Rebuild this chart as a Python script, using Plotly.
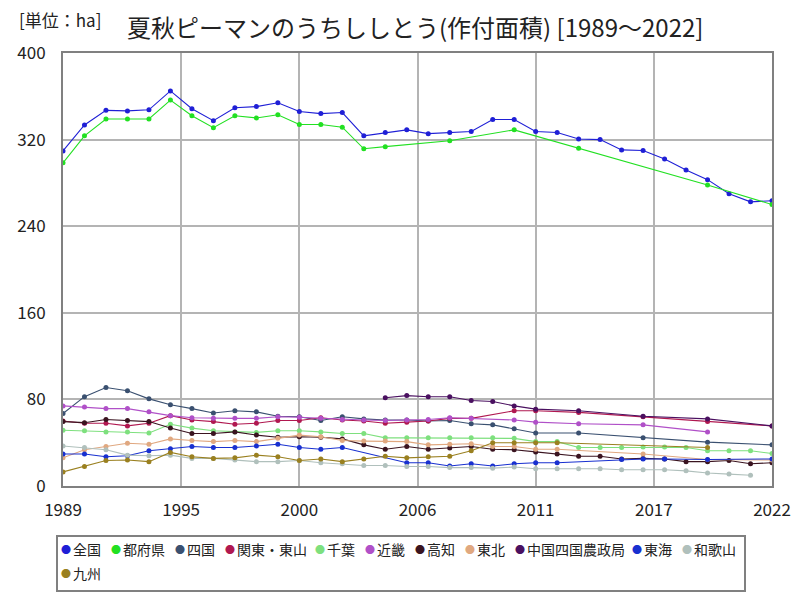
import plotly.graph_objects as go

years = list(range(1989, 2023))
N = None

zenkoku = [309.5, 333.5, 347, 346.5, 347.5, 365, 348.5, 337.5, 349.5, 350.5, 354, 346,
           344, 345, 323.5, 326.5, 329, 325.5, 326.5, 327.5, 338.5, 338.5, 327.5,
           326.5, 320.5, 320, 310.5, 310, 302, 292, 283, 270, 262.5, 263.5]
tofuken = [298.5, 323.5, 339, 339, 339, 356.5, 342, 331, 342, 340, 343, 334,
           334, 331.5, 311.5, 313.5, N, N, 319, N, N, 329, N,
           N, 312, N, N, N, N, N, 278, N, N, 260]
shikoku = [67, 82.5, 91, 88, 80.5, 75, 71.5, 67.5, 69.5, 68.5, 64.5, 64,
           60.5, 64, 62, 61, 61, 60, 60.5, 57.5, 56.5, 53, 49,
           N, 49, N, N, 44.5, N, N, 40.5, N, N, 38]
kanto = [60, 58, 58, 55.5, 58, 65, 61, 59.5, 57, 58, 60.5, 60.5,
         63, 61, 60, 58, 59, 60, 62.5, 62.5, N, 69.5, 69.5,
         N, 68, N, N, 64, N, N, 59.5, N, N, 55.5]
chiba = [51.5, 51, 50, 50, 49, 57, 53.5, 51, 50, 49.5, 51, 51,
         50, 48.5, 48.5, 44.5, 44.5, 44.5, 44.5, 44.5, 44.5, 44, 41,
         41, 35.5, 35.5, 35.5, 36, 36, 35.5, 32.5, 32.5, 32.5, 30]
kinki = [74, 73, 71.5, 71.5, 68.5, 65, 63, 62.5, 62.5, 62.5, 64, 63.5,
         62.5, 61.5, 61, 60.5, 61, 61.5, 63, 62.5, N, 61, 59,
         N, 57.5, N, N, 56.5, N, N, 50, N, N, N]
kochi = [59.5, 58.5, 61.5, 60.5, 59.5, 53.5, 48.5, 48.5, 50, 47, 45, 45.5,
         45, 43.5, 38, 34, 36.5, 34, 35, 36.5, 34, 33.5, 31.5,
         29.5, 27.5, 27.5, 25, 25.5, 25, 22.5, 22.5, 23.5, 20.5, 21.5]
tohoku = [26, 33.5, 36.5, 39.5, 38.5, 43.5, 42, 41, 42, 41, 44, 47,
          45.5, 42, 41.5, 41.5, 41, 38, 38.5, 39, 36.5, 36.5, 34,
          34, N, N, N, 29.5, N, N, 24.5, N, N, 24]
chugoku_shikoku = [N, N, N, N, N, N, N, N, N, N, N, N,
                   N, N, N, 81.5, 83.5, 82.5, 82.5, 79, 78, 74, 71,
                   N, 69.5, N, N, 64.5, N, N, 62, N, N, 55.5]
tokai = [29.5, 29.5, 27, 28, 32.5, 34.5, 36.5, 35.5, 35.5, 37, 38.5, 35.5,
         34, 35.5, N, N, 21.5, 21.5, 18.5, 20.5, 18.5, 20.5, 21.5,
         21.5, N, N, 24.5, 25, 25, N, 24.5, N, N, 25]
wakayama = [37, 35.5, 33.5, 28.5, 28, 28.5, 25.5, 25.5, 24, 22.5, 22.5, 23.5,
            21.5, 20.5, 19, 19, 18, 18, 17, 17, 16.5, 17.5, 16,
            16, 16, 16, 15, 15, 15, 14, 12, 11, 10, N]
kyushu = [13, 18, 23.5, 24, 22.5, 31, 27, 25.5, 26, 28.5, 27, 23.5,
          25, 22.5, 25, 27.5, 26, 27, 27.5, 32.5, 40, 40, 40,
          40, N, N, N, N, N, N, 35.5, N, N, N]

series = [
    ("全国", zenkoku, "#1f1fd6"),
    ("都府県", tofuken, "#22e022"),
    ("四国", shikoku, "#3a5070"),
    ("関東・東山", kanto, "#b01850"),
    ("千葉", chiba, "#7ee07e"),
    ("近畿", kinki, "#b050c8"),
    ("高知", kochi, "#3a1420"),
    ("東北", tohoku, "#e0a880"),
    ("中国四国農政局", chugoku_shikoku, "#4a1060"),
    ("東海", tokai, "#1830d0"),
    ("和歌山", wakayama, "#b0c0bc"),
    ("九州", kyushu, "#9a8020"),
]

tick_vals = [1989, 1994.5, 2000, 2005.5, 2011, 2016.5, 2022]
tick_text = ["1989", "1995", "2000", "2006", "2011", "2017", "2022"]
y_ticks = [0, 80, 160, 240, 320, 400]

# plot area in pixels (for layout of the legend box)
L, R, T, B = 63, 772, 53, 486
def px_x(p):
    return (p - L) / (R - L)
def px_y(p):
    return (B - p) / (B - T)

fig = go.Figure()
for name, vals, col in series:
    fig.add_trace(go.Scatter(x=years, y=vals, mode="lines+markers", name=name,
                             connectgaps=True, showlegend=False,
                             line=dict(color=col, width=1.1),
                             marker=dict(color=col, size=5)))

font_family = "Noto Sans CJK JP"
fig.update_layout(
    width=800, height=600,
    margin=dict(l=L, r=800 - R, t=T, b=600 - B, autoexpand=False),
    plot_bgcolor="white", paper_bgcolor="white",
    showlegend=False,
    font=dict(family=font_family, color="#222", size=14),
    title=dict(text="夏秋ピーマンのうちししとう(作付面積) [1989～2022]",
               x=0.519, xanchor="center", y=0.953, yanchor="middle",
               font=dict(size=24, color="#222")),
)

fig.add_annotation(text="[単位：ha]", xref="paper", yref="paper", x=px_x(17), y=px_y(19),
                   xanchor="left", yanchor="middle", showarrow=False,
                   font=dict(size=17, color="#222"))

# legend box drawn as shape + annotations
fig.add_shape(type="rect", xref="paper", yref="paper",
              x0=px_x(57), x1=px_x(745), y0=px_y(536), y1=px_y(591),
              line=dict(color="#808080", width=2), fillcolor="white", layer="above")
x_dot = 66.0
row_y = 549
for i, (name, vals, col) in enumerate(series):
    if x_dot + 13.3 * len(name) + 8 > 745:
        x_dot = 66.0
        row_y += 24
    fig.add_annotation(text="●", xref="paper", yref="paper", x=px_x(x_dot), y=px_y(row_y),
                       xanchor="center", yanchor="middle", showarrow=False,
                       font=dict(size=10, color=col))
    fig.add_annotation(text=name, xref="paper", yref="paper", x=px_x(x_dot + 5), y=px_y(row_y),
                       xanchor="left", yanchor="middle", showarrow=False,
                       font=dict(size=14, color="#222"))
    x_dot += 13.3 * len(name) + 23.5

fig.update_xaxes(range=[1989, 2022], tickvals=tick_vals, ticktext=tick_text,
                 showgrid=True, gridcolor="#b4b4b4", gridwidth=1.5,
                 showline=True, mirror=True, linecolor="#808080", linewidth=2,
                 ticks="", tickfont=dict(size=17), zeroline=False,
                 ticklabelstandoff=8)
fig.update_yaxes(range=[0, 400], tickvals=y_ticks,
                 showgrid=True, gridcolor="#b4b4b4", gridwidth=1.5,
                 showline=True, mirror=True, linecolor="#808080", linewidth=2,
                 ticks="", tickfont=dict(size=17), zeroline=False,
                 ticklabelstandoff=12)

fig.write_html("out.html")
